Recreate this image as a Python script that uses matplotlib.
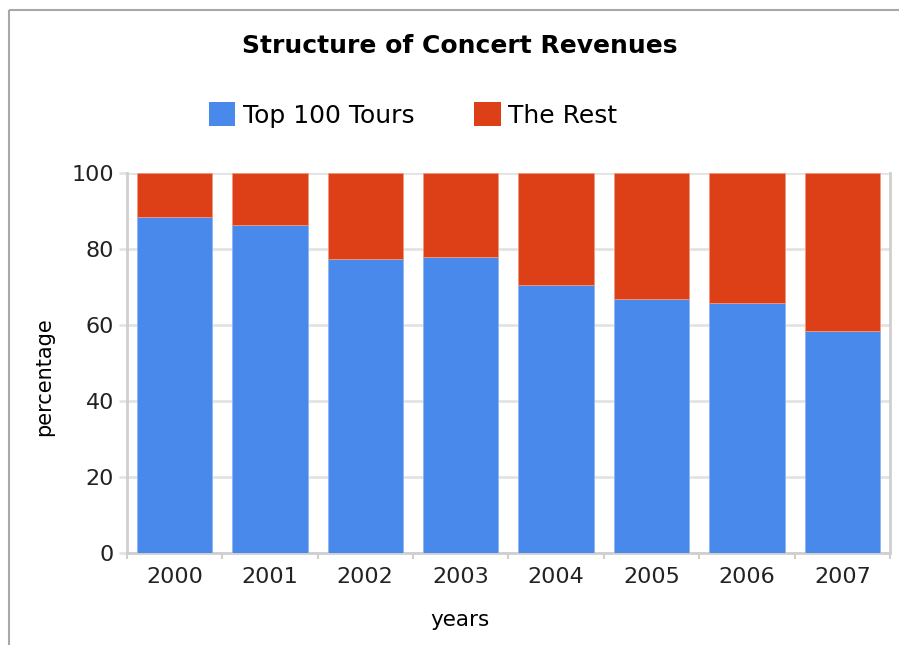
import matplotlib.pyplot as plt
from matplotlib.lines import Line2D
from matplotlib.patches import Patch
import numpy as np


YEARS = ["2000", "2001", "2002", "2003", "2004", "2005", "2006", "2007"]
TOP_100 = [88.3, 86.2, 77.3, 77.8, 70.5, 66.8, 65.7, 58.3]
THE_REST = [11.7, 13.8, 22.7, 22.2, 29.5, 33.2, 34.3, 41.7]
SERIES_NAMES = ["Top 100 Tours", "The Rest"]
Y_TICKS = [0, 20, 40, 60, 80, 100]

BLUE = "#4a89ec"
RED = "#dd4016"
GRID = "#e3e3e3"
AXIS = "#cfcfcf"

W, H = 899, 645
fig = plt.figure(figsize=(W / 100, H / 100), dpi=100)

# gray frame lines along the top and left edge of the chart box
fig.lines.append(Line2D([8.5 / W, 8.5 / W], [-0.05, 1 - 9.5 / H], transform=fig.transFigure,
                        color="#a8a8a8", linewidth=1.5, solid_capstyle="butt"))
fig.lines.append(Line2D([8.5 / W, 1.05], [1 - 9.5 / H, 1 - 9.5 / H], transform=fig.transFigure,
                        color="#a8a8a8", linewidth=1.5, solid_capstyle="butt"))

ax = fig.add_axes([126.7 / W, 92 / H, (890 - 126.7) / W, 380 / H])

x = np.arange(len(YEARS))
ax.bar(x, TOP_100, width=0.79, color=BLUE, edgecolor="#8fb6f3",
       linewidth=0.6, zorder=3)
ax.bar(x, THE_REST, width=0.79, bottom=TOP_100, color=RED,
       edgecolor="#ee9a80", linewidth=0.6, zorder=3)

ax.set_xlim(-0.5, len(YEARS) - 0.5)
ax.set_ylim(0, 100)
ax.set_yticks(Y_TICKS)
ax.set_yticklabels([str(v) for v in Y_TICKS], fontsize=16, color="#222222")
ax.set_xticks(x)
ax.set_xticklabels(YEARS, fontsize=16, color="#222222")
ax.tick_params(axis="x", length=0, pad=10)
ax.tick_params(axis="y", length=6, width=2, color=GRID, pad=3)
# small ticks on category boundaries
ax.set_xticks(np.arange(-0.5, len(YEARS)), minor=True)
ax.tick_params(axis="x", which="minor", length=4, width=1.5, color=AXIS)

ax.grid(axis="y", color=GRID, linewidth=2, zorder=0)
ax.spines["top"].set_visible(False)
for side in ["left", "bottom", "right"]:
    ax.spines[side].set_color(AXIS)
    ax.spines[side].set_linewidth(2)

# axis titles sit relative to the whole chart box, not the plot area
fig.text(44 / W, 1 - 377 / H, "percentage", rotation=90,
         ha="center", va="center", fontsize=15)
fig.text(460 / W, 1 - 620 / H, "years", ha="center", va="center",
         fontsize=15.5)

fig.text(460 / W, 1 - 46 / H, "Structure of Concert Revenues",
         ha="center", va="center", fontsize=18, fontweight="bold")

handles = [Patch(facecolor=BLUE), Patch(facecolor=RED)]
fig.legend(handles, SERIES_NAMES, loc="center", ncol=2,
           bbox_to_anchor=(413 / W, 1 - 115 / H), frameon=False,
           fontsize=18, handlelength=1.05, handleheight=1.1,
           handletextpad=0.3, columnspacing=2.4)

fig.savefig("out.png", dpi=100)
